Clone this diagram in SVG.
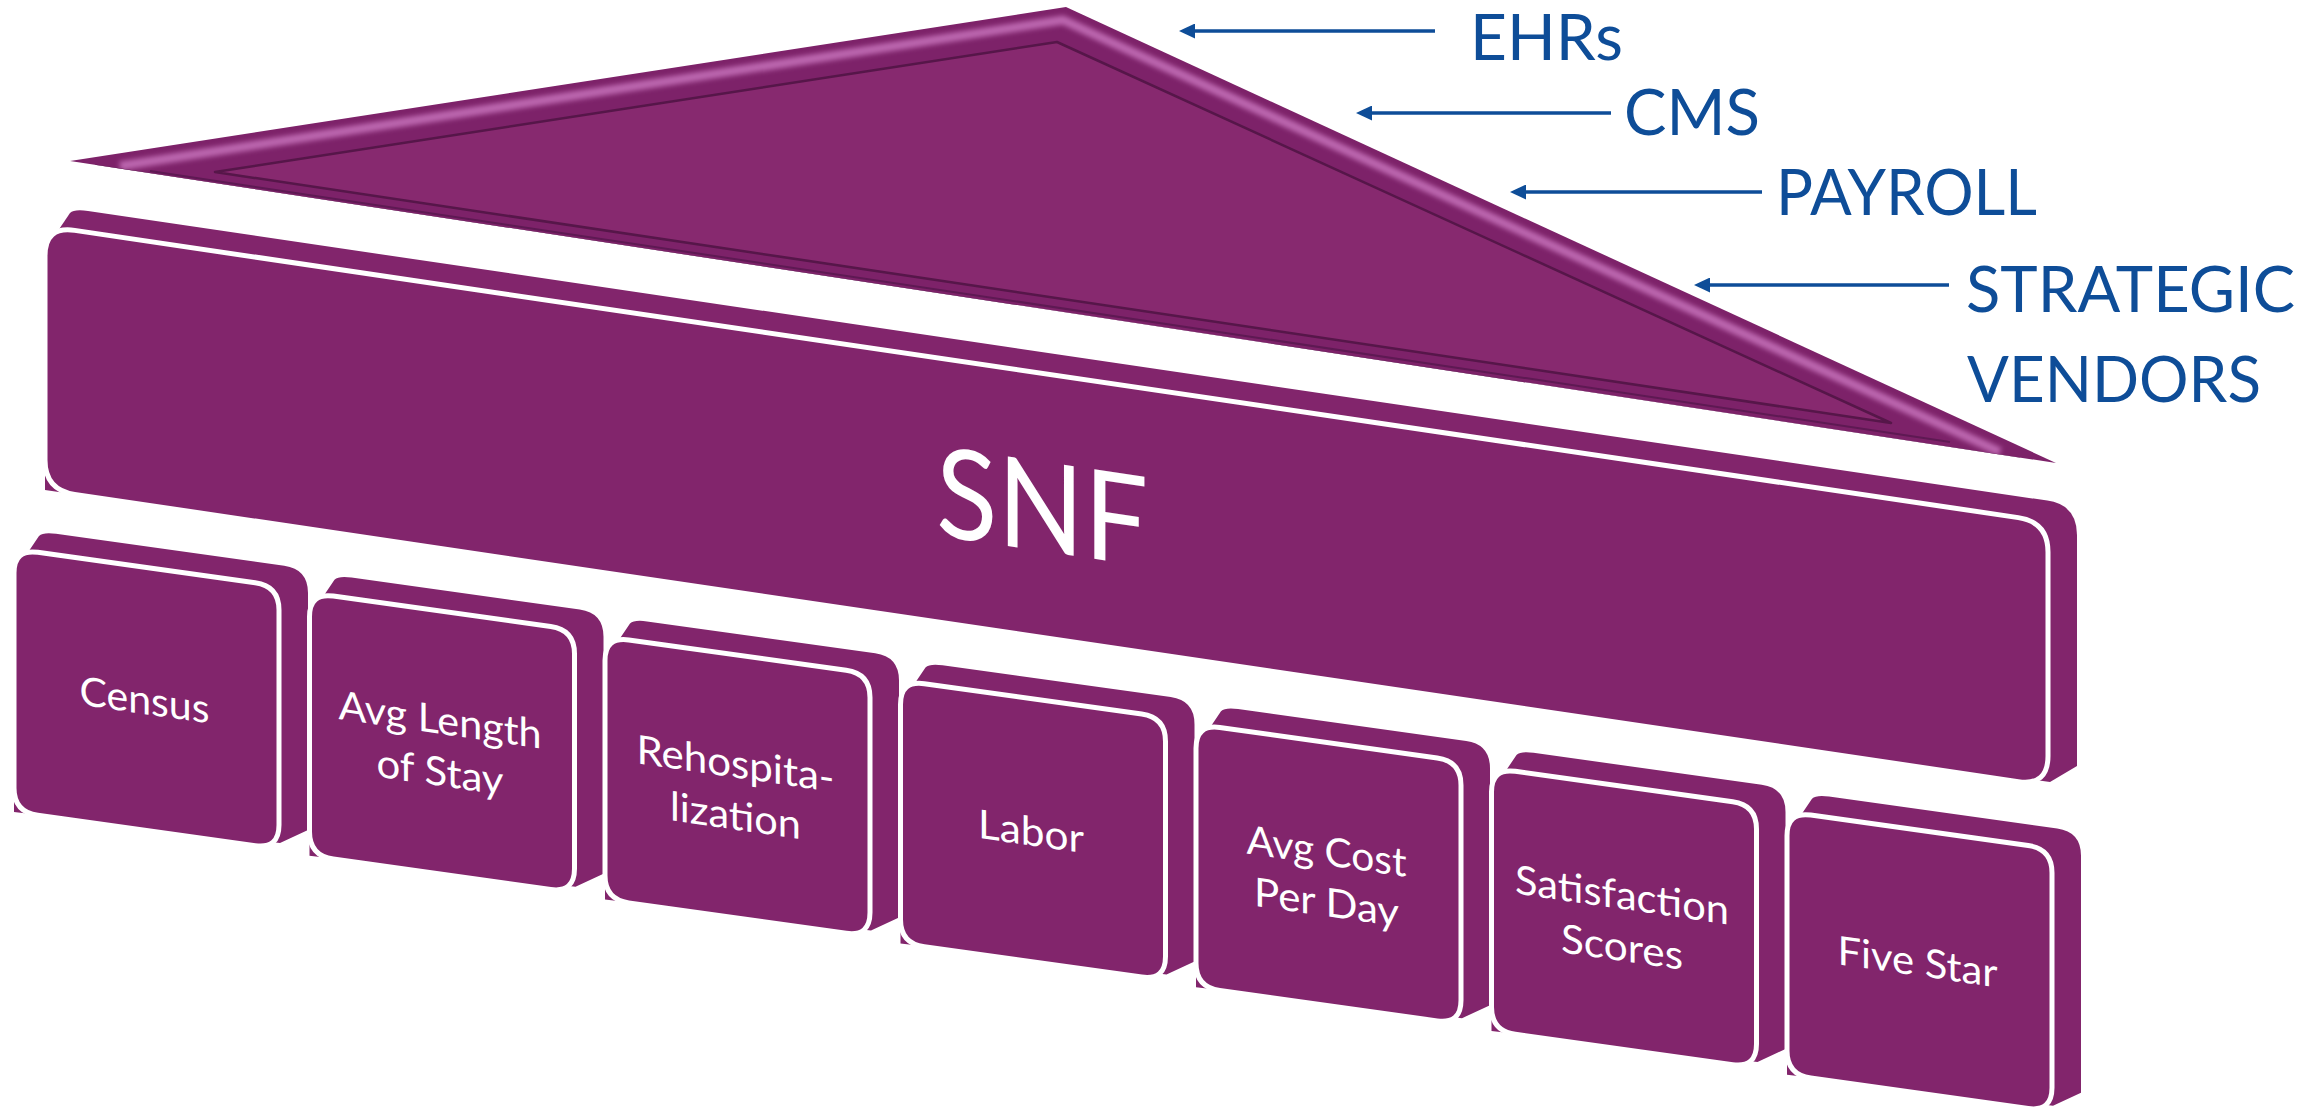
<svg xmlns="http://www.w3.org/2000/svg" width="2299" height="1107" viewBox="0 0 2299 1107">
<style>
.side{fill:#82256C}
.front{fill:#82256C;stroke:#ffffff;stroke-width:5}
.lbl{font-family:Lato,"Open Sans","Liberation Sans",sans-serif;fill:#ffffff;font-size:40px}
.snf{font-family:Lato,"Open Sans","Liberation Sans",sans-serif;fill:#ffffff;font-size:125px}
.blue{font-family:Lato,"Open Sans","Liberation Sans",sans-serif;fill:#0E4D98;font-size:63px}
.conn{stroke:#0E4D98;stroke-width:3.5;fill:none;marker-end:url(#ah)}
</style>
<defs>
<marker id="ah" markerUnits="userSpaceOnUse" markerWidth="16" markerHeight="15" viewBox="0 0 16 15" refX="8" refY="7.5" orient="auto"><path d="M0,0 L16,7.5 L0,15 Z" fill="#0E4D98"/></marker>
<filter id="soft" x="-5%" y="-5%" width="110%" height="110%"><feGaussianBlur stdDeviation="2.5"/></filter>
<clipPath id="roofclip"><polygon points="70,161 1066,7 2056,463"/></clipPath>
<g id="blk">
<path class="side" d="M0,24 L25,-13 Q29,-17 42,-15.2 L270.2,16.7 Q294,20 294,44 L294,281 L266,294 L0,263 Z"/>
<path class="front" d="M0,24 Q0,0 23.8,3.3 L241.2,33.7 Q265,37 265,61 L265,276 Q265,300 241.2,296.7 L23.8,266.3 Q0,263 0,239 Z"/>
</g>
</defs>

<g id="roof">
<polygon points="70,161 1066,7 2056,463" fill="#7D2269"/>
<g clip-path="url(#roofclip)">
<polyline points="120,166 1063,20 2000,452" fill="none" stroke="#BC66AF" stroke-width="9" stroke-linejoin="round" filter="url(#soft)"/>
<polyline points="95,166 2020,459" fill="none" stroke="#5A174E" stroke-width="3"/>
<polyline points="150,171 1950,442" fill="none" stroke="#5E1953" stroke-width="2"/>
</g>
<polygon points="215,172 1057,42 1891,423" fill="#87296F" stroke="#561649" stroke-width="2.5" stroke-linejoin="round"/>
</g>

<g id="snf">
<path class="side" d="M45,250 L70,213 Q74,209 88,211 L2047.3,500.6 Q2077,505 2077,535 L2077,766 L2050,782 L45,490 Z"/>
<path class="front" d="M45,256 Q45,226 74.7,230.4 L2018.3,517.6 Q2048,522 2048,552 L2048,756 Q2048,786 2018.3,781.6 L74.7,494.4 Q45,490 45,460 Z"/>
<text class="snf" transform="translate(1042,551) skewY(8.4)" text-anchor="middle" textLength="212" lengthAdjust="spacingAndGlyphs">SNF</text>
</g>

<g id="census">
<use href="#blk" x="14" y="549"/>
<text class="lbl" transform="translate(144.5,699) skewY(8.25)" y="15" text-anchor="middle" textLength="130" lengthAdjust="spacingAndGlyphs">Census</text>
</g>
<g id="avg-length-of-stay">
<use href="#blk" x="309.5" y="592.8"/>
<text class="lbl" transform="translate(440,742.8) skewY(8.25)" y="-9" text-anchor="middle" textLength="203" lengthAdjust="spacingAndGlyphs">Avg Length</text>
<text class="lbl" transform="translate(440,742.8) skewY(8.25)" y="43" text-anchor="middle" textLength="127" lengthAdjust="spacingAndGlyphs">of Stay</text>
</g>
<g id="rehospitalization">
<use href="#blk" x="605" y="636.6"/>
<text class="lbl" transform="translate(735.5,786.6) skewY(8.25)" y="-9" text-anchor="middle" textLength="198" lengthAdjust="spacingAndGlyphs">Rehospita-</text>
<text class="lbl" transform="translate(735.5,786.6) skewY(8.25)" y="43" text-anchor="middle" textLength="131" lengthAdjust="spacingAndGlyphs">lization</text>
</g>
<g id="labor">
<use href="#blk" x="900.5" y="680.4"/>
<text class="lbl" transform="translate(1031,830.4) skewY(8.25)" y="15" text-anchor="middle" textLength="106" lengthAdjust="spacingAndGlyphs">Labor</text>
</g>
<g id="avg-cost-per-day">
<use href="#blk" x="1196" y="724.2"/>
<text class="lbl" transform="translate(1326.5,874.2) skewY(8.25)" y="-9" text-anchor="middle" textLength="160" lengthAdjust="spacingAndGlyphs">Avg Cost</text>
<text class="lbl" transform="translate(1326.5,874.2) skewY(8.25)" y="42" text-anchor="middle" textLength="145" lengthAdjust="spacingAndGlyphs">Per Day</text>
</g>
<g id="satisfaction-scores">
<use href="#blk" x="1491.5" y="768"/>
<text class="lbl" transform="translate(1622,918) skewY(8.25)" y="-9" text-anchor="middle" textLength="214" lengthAdjust="spacingAndGlyphs">Satisfaction</text>
<text class="lbl" transform="translate(1622,918) skewY(8.25)" y="43" text-anchor="middle" textLength="122" lengthAdjust="spacingAndGlyphs">Scores</text>
</g>
<g id="five-star">
<use href="#blk" x="1787" y="811.8"/>
<text class="lbl" transform="translate(1917.5,961.8) skewY(8.25)" y="14" text-anchor="middle" textLength="160" lengthAdjust="spacingAndGlyphs">Five Star</text>
</g>

<g id="src-ehrs"><text class="blue" x="1470" y="60" textLength="153" lengthAdjust="spacingAndGlyphs">EHRs</text></g>
<g id="src-cms"><text class="blue" x="1624" y="135" textLength="136" lengthAdjust="spacingAndGlyphs">CMS</text></g>
<g id="src-payroll"><text class="blue" x="1776" y="215" textLength="261" lengthAdjust="spacingAndGlyphs">PAYROLL</text></g>
<g id="src-strategic"><text class="blue" x="1966" y="312" textLength="329" lengthAdjust="spacingAndGlyphs">STRATEGIC</text><text class="blue" x="1967" y="402" textLength="294" lengthAdjust="spacingAndGlyphs">VENDORS</text></g>

<g id="connectors">
<line class="conn" x1="1435" y1="31" x2="1187" y2="31"/>
<line class="conn" x1="1611" y1="113" x2="1364" y2="113"/>
<line class="conn" x1="1762" y1="192" x2="1518" y2="192"/>
<line class="conn" x1="1949" y1="285" x2="1702" y2="285"/>
</g>
</svg>
